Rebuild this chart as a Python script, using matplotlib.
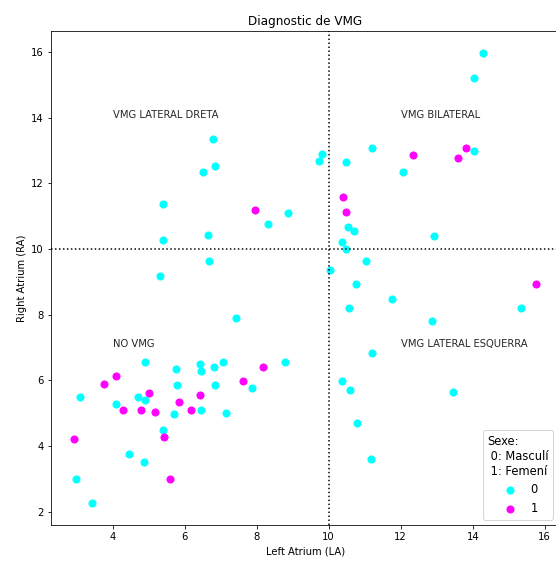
import matplotlib.pyplot as plt

# Sexe 0 (Masculí)
la_0 = [6.79, 9.81, 9.73, 6.85, 6.52, 5.40, 8.87, 8.31, 6.65, 5.40, 6.69,
        14.28, 14.05, 11.19, 14.05, 10.49, 12.06, 10.55, 10.69, 10.36, 10.48, 12.93, 11.05,
        10.04, 10.75, 11.75, 10.56, 15.35, 12.87, 11.19, 10.38, 10.59, 13.46, 10.79, 11.18,
        5.31, 7.44, 4.90, 5.76, 6.44, 6.46, 6.81, 7.06, 8.79, 5.79, 6.84, 7.86, 3.10, 4.71,
        4.90, 4.10, 6.46, 5.70, 7.15, 5.40, 4.45, 4.88, 2.99, 3.42]
ra_0 = [13.35, 12.89, 12.68, 12.52, 12.34, 11.38, 11.11, 10.76, 10.42, 10.28, 9.63,
        15.97, 15.22, 13.08, 12.98, 12.66, 12.34, 10.68, 10.55, 10.22, 10.00, 10.39, 9.64,
        9.36, 8.92, 8.48, 8.19, 8.19, 7.81, 6.82, 5.98, 5.69, 5.63, 4.69, 3.60,
        9.18, 7.89, 6.55, 6.33, 6.49, 6.29, 6.41, 6.55, 6.55, 5.85, 5.85, 5.77, 5.50, 5.50,
        5.39, 5.27, 5.09, 4.97, 4.99, 4.50, 3.75, 3.51, 2.99, 2.26]

# Sexe 1 (Femení)
la_1 = [7.95, 12.34, 13.81, 13.60, 10.41, 10.47, 15.76, 8.19, 4.10, 3.75, 7.63,
        5.00, 5.85, 6.42, 4.30, 4.80, 5.19, 6.19, 5.44, 2.93, 5.59]
ra_1 = [11.19, 12.88, 13.08, 12.78, 11.58, 11.14, 8.93, 6.39, 6.12, 5.89, 5.98,
        5.60, 5.34, 5.55, 5.09, 5.09, 5.02, 5.09, 4.26, 4.20, 2.99]

quadrants = ["VMG LATERAL DRETA", "VMG BILATERAL", "NO VMG", "VMG LATERAL ESQUERRA"]
quad_pos = [(4, 14), (12, 14), (4, 7), (12, 7)]

fig = plt.figure(figsize=(556 / 72, 561 / 72), dpi=72)
ax = fig.add_axes([0.0917, 0.0633, 0.914, 0.882])

ax.scatter(la_0, ra_0, s=50, color='cyan', label='0')
ax.scatter(la_1, ra_1, s=50, color='magenta', label='1')

ax.axhline(10, color='black', linestyle=':')
ax.axvline(10, color='black', linestyle=':')

for txt, (x, y) in zip(quadrants, quad_pos):
    ax.text(x, y, txt, color='#262626')

ax.set_title("Diagnostic de VMG")
ax.set_xlabel("Left Atrium (LA)")
ax.set_ylabel("Right Atrium (RA)")
ax.legend(title="Sexe:\n 0: Masculí\n 1: Femení", loc='lower right',
          fontsize=11.5, title_fontsize=11.5)

fig.savefig("out.png", dpi=72)
